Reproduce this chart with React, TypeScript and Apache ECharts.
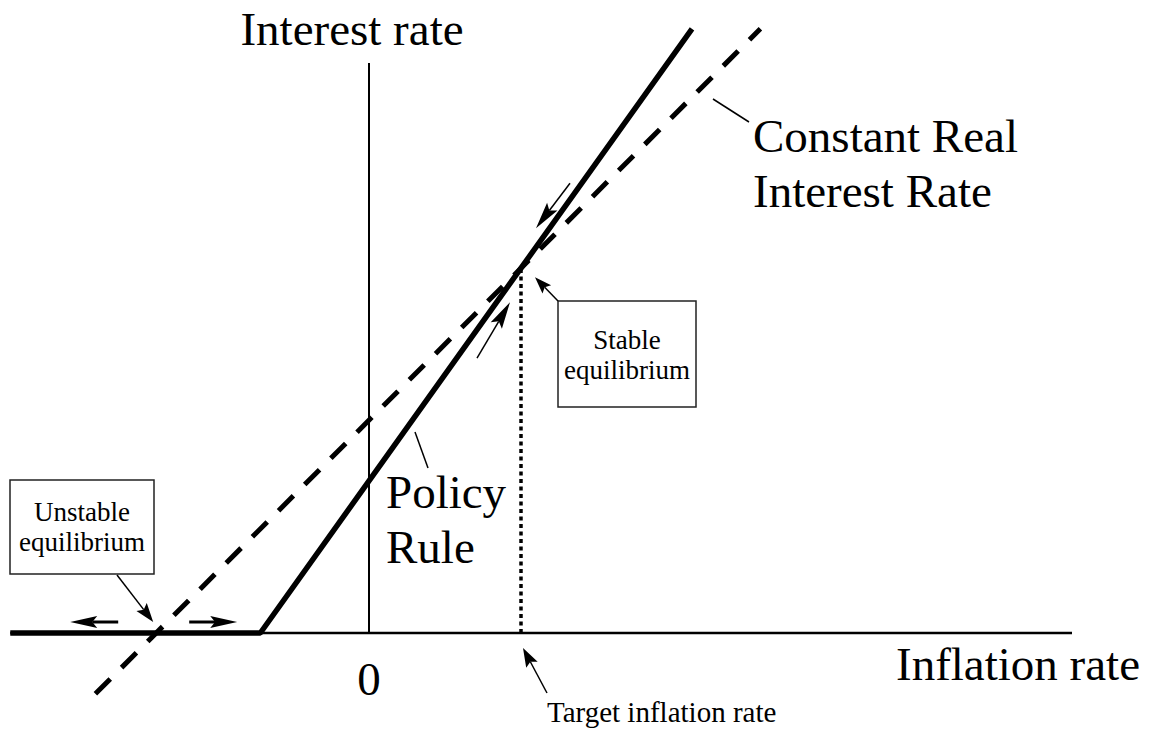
import React, { useEffect, useRef } from "react";
import * as echarts from "echarts";

// ---- data (inflation rate on x, interest rate on y) ----
const TARGET_INFLATION = 2;
const REAL_RATE = 2.8;
const EQUILIBRIUM_RATE = 4.8;
const horizontalAxis: number[][] = [[-4.72, 0], [9.25, 0]];
const verticalAxis: number[][] = [[0, 0], [0, 7.5]];
const policyRule: number[][] = [[-4.72, 0], [-1.43, 0], [4.25, 7.95]];
const constantRealRate: number[][] = [[-3.6, -0.8], [5.15, 7.95]];
const targetLine: number[][] = [[TARGET_INFLATION, 0], [TARGET_INFLATION, EQUILIBRIUM_RATE]];
const stableEq: number[] = [TARGET_INFLATION, EQUILIBRIUM_RATE];
const unstableEq: number[] = [-REAL_RATE, 0];

// ---- scale (layout) ----
const W = 1150;
const H = 740;
const PX = 76;
const OX = 369;
const OY = 633;

const FONT = '"Liberation Serif", "Times New Roman", serif';

function txt(text: string, x: number, y: number, size: number, align = "left") {
  return {
    type: "text",
    x,
    y,
    z: 10,
    style: {
      text,
      fontSize: size,
      fontFamily: FONT,
      fill: "#000",
      align,
      textAlign: align,
      verticalAlign: "middle",
      textVerticalAlign: "middle",
    },
  };
}

function arrow(tail: number[], tip: number[], headLen: number, headW: number, lineW: number) {
  const dx = tip[0] - tail[0];
  const dy = tip[1] - tail[1];
  const len = Math.hypot(dx, dy);
  const ux = dx / len;
  const uy = dy / len;
  const px = -uy;
  const py = ux;
  const bx = tip[0] - ux * headLen;
  const by = tip[1] - uy * headLen;
  const nx = tip[0] - ux * headLen * 0.82;
  const ny = tip[1] - uy * headLen * 0.82;
  return [
    {
      type: "line",
      z: 10,
      shape: { x1: tail[0], y1: tail[1], x2: nx, y2: ny },
      style: { stroke: "#000", lineWidth: lineW },
    },
    {
      type: "polygon",
      z: 10,
      shape: {
        points: [
          [tip[0], tip[1]],
          [bx + (px * headW) / 2, by + (py * headW) / 2],
          [nx, ny],
          [bx - (px * headW) / 2, by - (py * headW) / 2],
        ],
      },
      style: { fill: "#000" },
    },
  ];
}

export default function App() {
  const ref = useRef<HTMLDivElement>(null);
  useEffect(() => {
    document.body.style.margin = "0";
    const chart = echarts.init(ref.current as HTMLDivElement, null, { renderer: "svg" });
    const base = (data: number[][], width: number, type: any = "solid", z = 2) => ({
      type: "line",
      data,
      symbol: "none",
      silent: true,
      z,
      lineStyle: { color: "#000", width, type, cap: "butt" },
    });
    chart.setOption({
      animation: false,
      backgroundColor: "#fff",
      grid: { left: 0, right: 0, top: 0, bottom: 0 },
      xAxis: { type: "value", min: -OX / PX, max: (W - OX) / PX, show: false },
      yAxis: { type: "value", min: -(H - OY) / PX, max: OY / PX, show: false },
      series: [
        base(horizontalAxis, 2.5, "solid", 1),
        base(verticalAxis, 2, "solid", 1),
        base(targetLine, 3.5, [4, 3.5], 2),
        base(constantRealRate, 5, [21, 16], 3),
        base(policyRule, 5.5, "solid", 4),
      ],
    });
    const toPx = (p: number[]) => chart.convertToPixel({ gridIndex: 0 }, p) as number[];
    const s = toPx(stableEq);
    const u = toPx(unstableEq);
    const t = toPx([TARGET_INFLATION, 0]);
    const off = (p: number[], dx: number, dy: number) => [p[0] + dx, p[1] + dy];

    const graphic: any[] = [
      txt("Interest rate", 352, 29, 47, "center"),
      txt("Inflation rate", 896, 664, 47, "left"),
      txt("0", 369, 679, 47, "center"),
      txt("Constant Real", 753, 136, 47, "left"),
      txt("Interest Rate", 753, 191, 47, "left"),
      txt("Policy", 386, 492, 47, "left"),
      txt("Rule", 386, 547, 47, "left"),
      txt("Target inflation rate", 547, 712, 29, "left"),
      // connectors
      { type: "line", z: 10, shape: { x1: 415, y1: 432, x2: 428, y2: 468 }, style: { stroke: "#000", lineWidth: 1.5 } },
      { type: "line", z: 10, shape: { x1: 713, y1: 99, x2: 749, y2: 122 }, style: { stroke: "#000", lineWidth: 1.5 } },
      // boxes
      { type: "rect", z: 9, shape: { x: 10, y: 480, width: 144, height: 94 }, style: { fill: "#fff", stroke: "#222", lineWidth: 1.5 } },
      txt("Unstable", 82, 512, 27, "center"),
      txt("equilibrium", 82, 542, 27, "center"),
      { type: "rect", z: 9, shape: { x: 558, y: 301, width: 138, height: 106 }, style: { fill: "#fff", stroke: "#222", lineWidth: 1.5 } },
      txt("Stable", 627, 340, 27, "center"),
      txt("equilibrium", 627, 370, 27, "center"),
      // pointers
      ...arrow([558, 301], off(s, 14, 9), 17, 12, 1.5),
      ...arrow([547, 693], off(t, 2, 15), 19, 13, 1.5),
      ...arrow([117, 575], off(u, -3, -11), 19, 13, 1.5),
      ...arrow(off(u, -38, -11), off(u, -86, -11), 27, 12, 3),
      ...arrow(off(u, 33, -11), off(u, 81, -11), 27, 12, 3),
      ...arrow(off(s, 49, -85), off(s, 15, -40), 27, 13, 1.5),
      ...arrow(off(s, -44, 90), off(s, -11, 34), 27, 13, 1.5),
    ];
    chart.setOption({ graphic });
    return () => chart.dispose();
  }, []);
  return <div ref={ref} style={{ width: W, height: H }} />;
}
